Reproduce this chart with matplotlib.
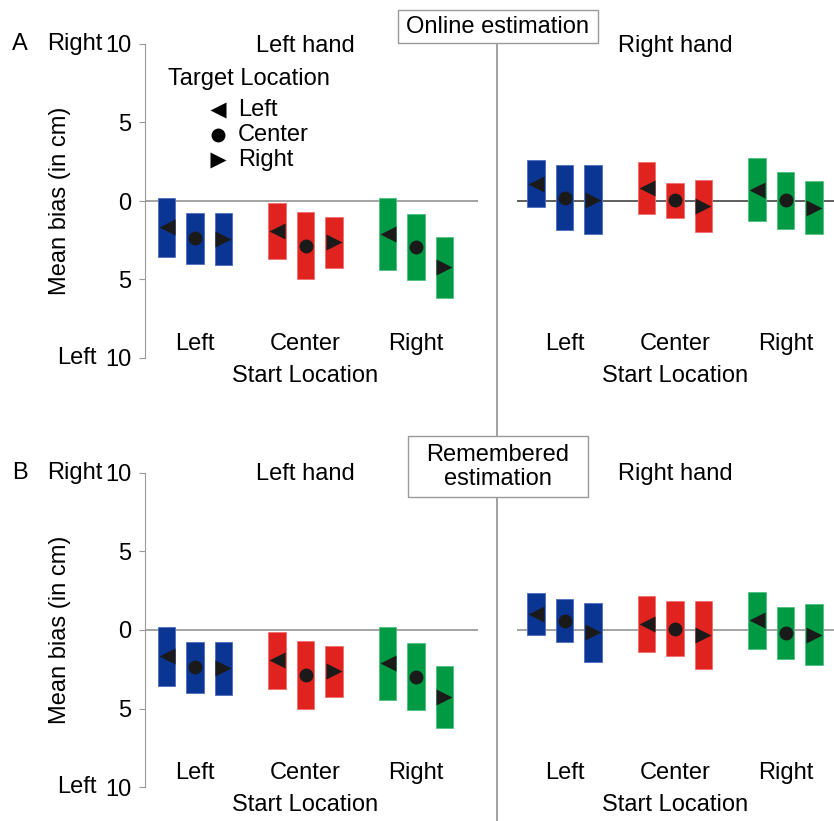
import numpy as np
import matplotlib
matplotlib.use('Agg')
import matplotlib.pyplot as plt
from matplotlib.lines import Line2D
from matplotlib.patches import Rectangle

plt.rcParams['font.family'] = ['Liberation Sans', 'DejaVu Sans']
plt.rcParams['font.size'] = 17

# start location groups and target location within each group
start_locs = ['Left', 'Center', 'Right']
target_locs = ['Left', 'Center', 'Right']
target_markers = ['<', 'o', '>']
group_colors = ['#0b3592', '#e0231f', '#009a44']
edge_colors = ['#4d6fc0', '#f07070', '#50c080']

# rows = start location, cols = target location (cm, + = rightward)
online_left_top = [[0.19, -0.74, -0.74], [-0.10, -0.68, -1.00], [0.17, -0.85, -2.27]]
online_left_bot = [[-3.57, -3.99, -4.10], [-3.71, -5.00, -4.24], [-4.41, -5.05, -6.18]]
online_left_mean = [[-1.66, -2.38, -2.44], [-1.91, -2.87, -2.59], [-2.12, -2.93, -4.20]]

online_right_top = [[2.59, 2.27, 2.27], [2.51, 1.15, 1.34], [2.72, 1.83, 1.27]]
online_right_bot = [[-0.40, -1.82, -2.12], [-0.85, -1.08, -1.95], [-1.29, -1.76, -2.12]]
online_right_mean = [[1.10, 0.22, 0.04], [0.83, 0.04, -0.32], [0.73, 0.06, -0.42]]

remem_left_top = [[0.17, -0.74, -0.74], [-0.11, -0.70, -1.00], [0.17, -0.85, -2.27]]
remem_left_bot = [[-3.59, -4.03, -4.12], [-3.72, -5.05, -4.29], [-4.44, -5.10, -6.20]]
remem_left_mean = [[-1.68, -2.38, -2.44], [-1.91, -2.87, -2.59], [-2.10, -2.97, -4.25]]

remem_right_top = [[2.36, 1.97, 1.70], [2.14, 1.85, 1.85], [2.42, 1.48, 1.63]]
remem_right_bot = [[-0.32, -0.75, -2.04], [-1.40, -1.68, -2.46], [-1.23, -1.87, -2.21]]
remem_right_mean = [[1.02, 0.59, -0.15], [0.38, 0.06, -0.32], [0.64, -0.17, -0.32]]

W, H = 834, 821
fig = plt.figure(figsize=(W / 100, H / 100), dpi=100)


def px(x, y):
    return x / W, 1 - y / H


def draw_panel(ax, top, bot, mean, title, zero_col, with_axis):
    top = np.array(top)
    bot = np.array(bot)
    mean = np.array(mean)
    offsets = [-0.257, 0.0, 0.257]
    ax.axhline(0, color=zero_col, lw=1.1, zorder=1)
    for g in range(3):
        for t in range(3):
            x = g + offsets[t]
            ax.bar(x, top[g, t] - bot[g, t], bottom=bot[g, t], width=0.158,
                   color=group_colors[g], edgecolor=edge_colors[g], lw=0.6, zorder=2)
            ax.plot(x, mean[g, t], marker=target_markers[t],
                    ms=10 if t == 1 else 11, color='#1a1a1a', mec='none', zorder=3)
        ax.text(g, -9.1, start_locs[g], ha='center', va='center')
    ax.text(1, -11.15, 'Start Location', ha='center', va='center', clip_on=False)
    ax.text(1, 9.9, title, ha='center', va='center')
    ax.set_ylim(-10, 10)
    for s in ['top', 'right', 'bottom']:
        ax.spines[s].set_visible(False)
    ax.set_xticks([])
    if with_axis:
        ax.spines['left'].set_color('#999999')
        ax.set_yticks([10, 5, 0, -5, -10])
        ax.set_yticklabels(['10', '5', '0', '5', '10'])
        ax.tick_params(axis='y', length=4, color='#999999', pad=6, labelsize=17)
    else:
        ax.spines['left'].set_visible(False)
        ax.set_yticks([])


# panel rows: (y of value 10, y of value -10) in pixels
rows = [(44, 358), (472.7, 787.3)]
panels = [
    [(online_left_top, online_left_bot, online_left_mean),
     (online_right_top, online_right_bot, online_right_mean)],
    [(remem_left_top, remem_left_bot, remem_left_mean),
     (remem_right_top, remem_right_bot, remem_right_mean)],
]
zero_cols = [['#8a8a8a', '#333333'], ['#8a8a8a', '#8a8a8a']]

for r, (ytop, ybot) in enumerate(rows):
    b = 1 - ybot / H
    h = (ybot - ytop) / H
    # left hand panel
    axl = fig.add_axes([145 / W, b, (478 - 145) / W, h])
    axl.set_xlim((145 - 195) / 110.5, (478 - 195) / 110.5)
    d = panels[r][0]
    draw_panel(axl, d[0], d[1], d[2], 'Left hand', zero_cols[r][0], True)
    # right hand panel
    axr = fig.add_axes([517 / W, b, (834 - 517) / W, h])
    axr.set_xlim((517 - 564.5) / 110.5, (834 - 564.5) / 110.5)
    d = panels[r][1]
    draw_panel(axr, d[0], d[1], d[2], 'Right hand', zero_cols[r][1], False)

    fig.text(*px(20, ytop), 'AB'[r], ha='center', va='center')
    fig.text(*px(75, ytop), 'Right', ha='center', va='center')
    fig.text(*px(77, ybot), 'Left', ha='center', va='center')
    fig.text(*px(60, (ytop + ybot) / 2), 'Mean bias (in cm)', rotation=90,
             ha='center', va='center')

    if r == 0:
        # legend for target location
        axl.text(0.49, 7.75, 'Target Location', ha='center', va='center')
        for t in range(3):
            yy = [5.78, 4.18, 2.59][t]
            axl.plot(0.21, yy, marker=target_markers[t], ms=10 if t == 1 else 11,
                     color='black', mec='none')
            axl.text(0.39, yy, target_locs[t], ha='left', va='center')

# divider line between hands
fig.add_artist(Line2D([497 / W, 497 / W], [0, 1 - 43 / H], color='#888888', lw=1.1, zorder=0))

# framed panel titles
for (x0, y0, x1, y1) in [(398, 10, 598, 43), (408, 436, 588, 497)]:
    fig.add_artist(Rectangle((x0 / W, 1 - y1 / H), (x1 - x0) / W, (y1 - y0) / H,
                             fc='white', ec='#999999', lw=1, zorder=4))
fig.text(*px(498, 27), 'Online estimation', ha='center', va='center', zorder=5)
fig.text(*px(498, 467), 'Remembered\nestimation', ha='center', va='center',
         linespacing=1.1, zorder=5)

fig.savefig('out.png', dpi=100)
